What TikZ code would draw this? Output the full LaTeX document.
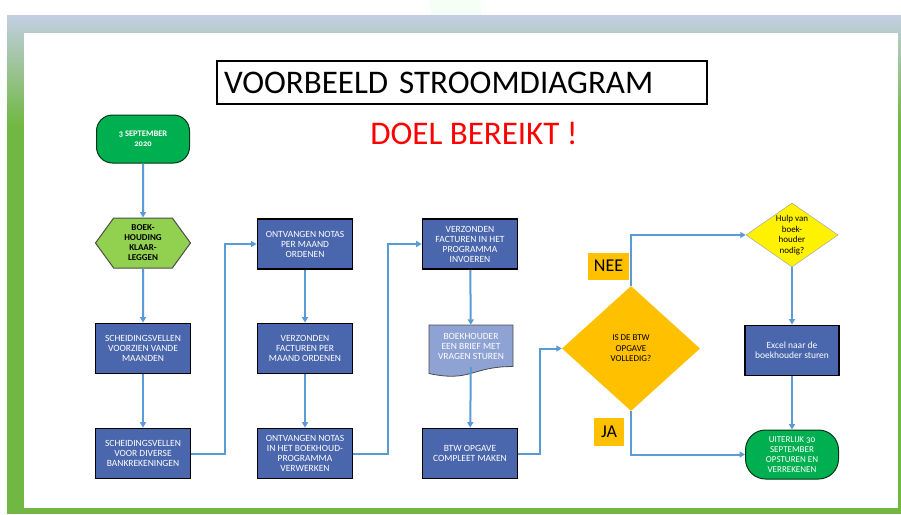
\documentclass[tikz,border=0pt]{standalone}
\usepackage{fontspec}
\setmainfont{Carlito}
\usetikzlibrary{arrows.meta,shapes.geometric,shapes.symbols}

\definecolor{kaderblauw}{HTML}{C4CEE3}
\definecolor{kadergroen}{HTML}{70B843}
\definecolor{pijlblauw}{HTML}{5B9BD5}
\definecolor{blokblauw}{HTML}{4A66AC}
\definecolor{briefblauw}{HTML}{8EA2D4}
\definecolor{startgroen}{HTML}{00B050}
\definecolor{lichtgroen}{HTML}{92D050}
\definecolor{oranjegeel}{HTML}{FFC000}

\tikzset{
  pijl/.style={draw=pijlblauw, line width=2pt, -{Triangle[length=5.5pt,width=6pt]}},
  blok/.style={draw=black, line width=1.8pt, fill=blokblauw, text=white, minimum width=95,
    minimum height=50, align=center, inner sep=1pt, font=\fontsize{9.5}{10}\selectfont},
  eindpunt/.style={draw=black!70!startgroen, line width=1pt, fill=startgroen, text=white,
    minimum width=93, align=center, inner sep=1pt,
    font=\fontsize{9}{10}\selectfont\addfontfeatures{Numbers=OldStyle}},
  keuze/.style={diamond, fill=oranjegeel, text=black, align=center, inner xsep=-8pt,
    inner ysep=-14pt, font=\fontsize{9}{10.5}\selectfont},
  antwoord/.style={fill=oranjegeel, text=black, inner sep=0pt, font=\fontsize{18}{18}\selectfont}
}

\begin{document}
\begin{tikzpicture}[x=1pt,y=-1pt]
  \useasboundingbox (0,0) rectangle (901,514);
  % kader
  \fill[green!4] (430,0) rectangle (481,15);
  \fill[kadergroen] (7,15) rectangle (901,514);
  \shade[top color=kaderblauw, bottom color=kadergroen] (7,15) rectangle (901,125);
  \fill[white] (24,33) rectangle (898,508);

  % titel
  \node[draw, line width=1.2pt, minimum width=490, minimum height=43, text width=476,
    inner xsep=7pt, align=left, font=\fontsize{33}{33}\selectfont] (titel) at (462,82.5)
    {VOORBEELD STROOMDIAGRAM};
  \node[text=red, font=\fontsize{33}{33}\selectfont] (doel) at (474,133) {DOEL BEREIKT !};

  % eerste kolom
  \node[eindpunt, rounded corners=16, minimum height=48,
    font=\bfseries\fontsize{8.5}{10}\selectfont\addfontfeatures{Numbers=OldStyle}]
    (start) at (143,139) {3 SEPTEMBER\\2020};
  \node[signal, signal to=west and east, signal pointer angle=108, draw=black!70,
    line width=1pt, fill=lichtgroen, minimum width=95, minimum height=50, inner sep=0pt,
    align=center, font=\bfseries\fontsize{9}{10}\selectfont] (hex) at (143,243)
    {BOEK-\\HOUDING\\KLAAR-\\LEGGEN};
  \node[blok] (sch1) at (143,348.5) {SCHEIDINGSVELLEN\\VOORZIEN VANDE\\MAANDEN};
  \node[blok] (sch2) at (143,453.5) {SCHEIDINGSVELLEN\\VOOR DIVERSE\\BANKREKENINGEN};

  % tweede kolom
  \node[blok] (notas1) at (305,244) {ONTVANGEN NOTAS\\PER MAAND\\ORDENEN};
  \node[blok] (fact1) at (305,348.5) {VERZONDEN\\FACTUREN PER\\MAAND ORDENEN};
  \node[blok] (notas2) at (305,453.5) {ONTVANGEN NOTAS\\IN HET BOEKHOUD-\\PROGRAMMA\\VERWERKEN};

  % derde kolom
  \node[blok] (fact2) at (470,244) {VERZONDEN\\FACTUREN IN HET\\PROGRAMMA\\INVOEREN};
  \draw[fill=briefblauw, draw=black!70, line width=0.8pt] (429,325) -- (513,325) -- (513,366.5)
    .. controls (471,366.5) and (471,382.5) .. (429,373.5) -- cycle;
  \node[text=white, align=center, minimum width=84, minimum height=42, inner sep=1pt,
    font=\fontsize{9.5}{10}\selectfont] (brief) at (471,346) {BOEKHOUDER\\EEN BRIEF MET\\VRAGEN STUREN};
  \node[blok] (btw) at (470,453.5) {BTW OPGAVE\\COMPLEET MAKEN};

  % keuzes
  \node[keuze, minimum width=138, minimum height=125] (btwq) at (631,348.5) {IS DE BTW\\OPGAVE\\VOLLEDIG?};
  \node[keuze, fill=yellow, draw=black!35, line width=0.5pt, minimum width=92,
    minimum height=64] (hulp) at (792,235) {Hulp van\\boek-\\houder\\nodig?};
  \node[blok, minimum width=94] (excel) at (792,350.5) {Excel naar de\\boekhouder sturen};
  \node[eindpunt, rounded corners=20, minimum height=49] (eind) at (792,454.5)
    {UITERLIJK 30\\SEPTEMBER\\OPSTUREN EN\\VERREKENEN};
  \node[antwoord, minimum width=41, minimum height=27] (nee) at (608.5,266) {NEE};
  \node[antwoord, minimum width=30, minimum height=28] (ja) at (609,432) {JA};

  % pijlen
  \draw[pijl] (start) -- (hex);
  \draw[pijl] (hex) -- (sch1);
  \draw[pijl] (sch1) -- (sch2);
  \draw[pijl] (sch2.east) -- ++(34,0) |- (notas1.west);
  \draw[pijl] (notas1) -- (fact1);
  \draw[pijl] (fact1) -- (notas2);
  \draw[pijl] (notas2.east) -- ++(35,0) |- (fact2.west);
  \draw[pijl] (fact2) -- (brief);
  \draw[pijl] (brief) -- (btw);
  \draw[pijl] (btw.east) -- ++(22,0) |- (btwq.west);
  \draw[pijl] (btwq.north) |- (hulp.west);
  \draw[pijl] (hulp) -- (excel);
  \draw[pijl] (excel) -- (eind);
  \draw[pijl] (btwq.south) |- (eind.west);
\end{tikzpicture}
\end{document}
